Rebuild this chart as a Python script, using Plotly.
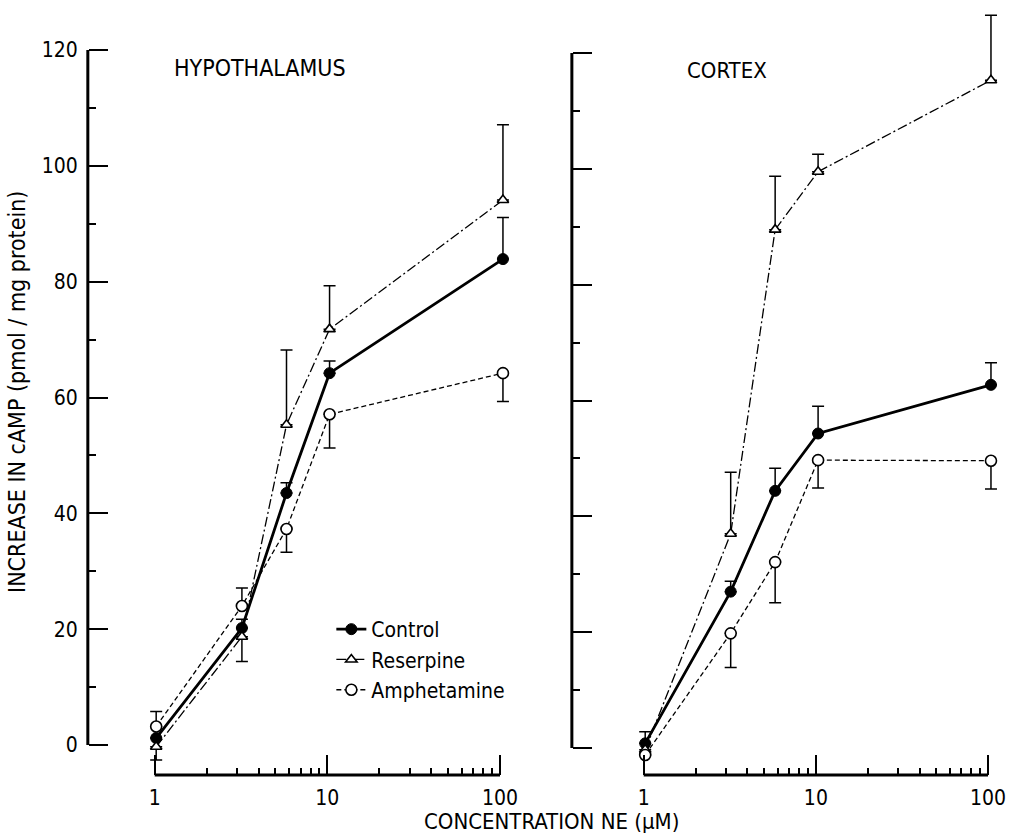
import plotly.graph_objects as go
import math

# ---------------- data ----------------
conc = [1.02, 3.2, 5.8, 10.3, 104]          # NE concentration (uM)
series = ["Control", "Reserpine", "Amphetamine"]

# Hypothalamus
hyp_control = [1.2, 20.2, 43.5, 64.2, 83.9]
hyp_control_up = [0, 1.5, 1.8, 2.1, 7.2]
hyp_control_dn = [0, 0, 0, 0, 0]
hyp_reserpine = [-0.3, 18.7, 55.3, 71.8, 94.1]
hyp_reserpine_up = [0, 0, 12.9, 7.5, 13.0]
hyp_reserpine_dn = [2.3, 4.3, 0, 0, 0]
hyp_amph = [3.2, 24.0, 37.3, 57.1, 64.2]
hyp_amph_up = [2.6, 3.1, 0, 0, 0]
hyp_amph_dn = [0, 0, 4.0, 5.8, 4.9]

# Cortex
ctx_control = [0.8, 27.0, 44.4, 54.3, 62.7]
ctx_control_up = [2.0, 1.8, 3.9, 4.7, 3.8]
ctx_control_dn = [0, 0, 0, 0, 0]
ctx_reserpine = [-0.3, 37.0, 89.5, 99.5, 115.3]
ctx_reserpine_up = [0, 10.6, 9.2, 3.0, 11.2]
ctx_reserpine_dn = [0, 0, 0, 0, 0]
ctx_amph = [-1.2, 19.8, 32.1, 49.7, 49.6]
ctx_amph_up = [0, 0, 0, 0, 0]
ctx_amph_dn = [0, 5.9, 7.0, 4.8, 4.9]

x_tickvals = [1, 10, 100]
x_ticktext = ["1", "10", "100"]
x_minor = [2, 3, 4, 5, 6, 7, 8, 9, 20, 30, 40, 50, 60, 70, 80, 90]
y_tickvals = [0, 20, 40, 60, 80, 100, 120]
y_ticktext = ["0", "20", "40", "60", "80", "100", "120"]

# ---------------- layout geometry (pixels) ----------------
W, H = 1009, 836
FONT = "DejaVu Sans Condensed, Liberation Sans Narrow, Arial Narrow, sans-serif"
NUMFONT = "DejaVu Sans Condensed, Liberation Sans Narrow, Arial Narrow, sans-serif"

def px(x):
    return x / W

def py(y):
    return 1 - y / H

L = dict(x0=155, dec=173.0, y0=745, unit=695 / 120, yax=88, xdom=(130, 535))
R = dict(x0=645, dec=172.5, y0=748, unit=695 / 120, yax=573, xdom=(620, 1006))
YDOM = (6, 792)
XAX_Y = 775

def xrange(p):
    return [(p["xdom"][0] - p["x0"]) / p["dec"], (p["xdom"][1] - p["x0"]) / p["dec"]]

def yrange(p):
    return [(p["y0"] - YDOM[1]) / p["unit"], (p["y0"] - YDOM[0]) / p["unit"]]

fig = go.Figure()

styles = {
    "Control": dict(line=dict(color="black", width=2.8),
                    marker=dict(symbol="circle", size=11, color="black",
                                line=dict(color="black", width=1))),
    "Reserpine": dict(line=dict(color="black", width=1.3, dash="10px,3px,2px,3px"),
                      marker=dict(symbol="triangle-up", size=10, color="white",
                                  line=dict(color="black", width=1.6))),
    "Amphetamine": dict(line=dict(color="black", width=1.3, dash="5px,3px"),
                        marker=dict(symbol="circle", size=11, color="white",
                                    line=dict(color="black", width=1.6))),
}

panels = [
    ("x", "y", [(hyp_control, hyp_control_up, hyp_control_dn),
                (hyp_reserpine, hyp_reserpine_up, hyp_reserpine_dn),
                (hyp_amph, hyp_amph_up, hyp_amph_dn)], True),
    ("x2", "y2", [(ctx_control, ctx_control_up, ctx_control_dn),
                  (ctx_reserpine, ctx_reserpine_up, ctx_reserpine_dn),
                  (ctx_amph, ctx_amph_up, ctx_amph_dn)], False),
]

for xa, ya, data, show in panels:
    for name, (vals, up, dn) in zip(series, data):
        st = styles[name]
        fig.add_trace(go.Scatter(
            x=conc, y=vals, xaxis=xa, yaxis=ya, name=name,
            mode="lines+markers", line=st["line"], marker=st["marker"],
            legendgroup=name, showlegend=show, cliponaxis=False,
            error_y=dict(type="data", symmetric=False, array=up, arrayminus=dn,
                         color="black", thickness=1.5, width=6),
        ))

def yaxis_cfg(p, labels):
    return dict(
        domain=[py(YDOM[1]), py(YDOM[0])], range=yrange(p),
        anchor="free", position=px(p["yax"]), showgrid=False, zeroline=False,
        showline=False, ticks="inside", ticklen=19, tickwidth=2, tickcolor="black",
        tickvals=y_tickvals, ticktext=y_ticktext, showticklabels=labels,
        ticklabelstandoff=10,
        tickfont=dict(family=NUMFONT, size=21, color="black"),
        minor=dict(tickvals=[10, 30, 50, 70, 90, 110], ticks="inside",
                   ticklen=7, tickwidth=2, tickcolor="black"),
    )

def xaxis_cfg(p):
    return dict(
        type="log", domain=[px(p["xdom"][0]), px(p["xdom"][1])], range=xrange(p),
        anchor="free", position=py(XAX_Y), showgrid=False, zeroline=False,
        showline=False, ticks="inside", ticklen=20, tickwidth=2, tickcolor="black",
        tickvals=x_tickvals, ticktext=x_ticktext, ticklabelstandoff=8,
        tickfont=dict(family=NUMFONT, size=21, color="black"),
        minor=dict(tickvals=x_minor, ticks="inside", ticklen=7, tickwidth=1.5,
                   tickcolor="black"),
    )

shapes = []
for p, yref in ((L, "y"), (R, "y2")):
    shapes.append(dict(type="line", xref="paper", yref=yref,
                       x0=px(p["yax"]), x1=px(p["yax"]), y0=0, y1=120,
                       line=dict(color="black", width=3)))
    shapes.append(dict(type="line", xref="paper", yref="paper",
                       x0=px(p["x0"]), x1=px(p["x0"] + 2 * p["dec"]),
                       y0=py(XAX_Y), y1=py(XAX_Y),
                       line=dict(color="black", width=3)))

annotations = [
    dict(text="HYPOTHALAMUS", x=px(172), y=py(68), xref="paper", yref="paper",
         xanchor="left", yanchor="middle", showarrow=False,
         font=dict(family=FONT, size=23, color="black")),
    dict(text="CORTEX", x=px(686), y=py(71), xref="paper", yref="paper",
         xanchor="left", yanchor="middle", showarrow=False,
         font=dict(family=FONT, size=22, color="black")),
    dict(text="INCREASE IN cAMP (pmol / mg protein)", x=px(17), y=py(392),
         xref="paper", yref="paper", textangle=-90, showarrow=False,
         xanchor="center", yanchor="middle",
         font=dict(family=FONT, size=23, color="black")),
    dict(text="CONCENTRATION NE (μM)", x=px(553), y=py(821),
         xref="paper", yref="paper", showarrow=False,
         xanchor="center", yanchor="middle",
         font=dict(family=FONT, size=22, color="black")),
]

fig.update_layout(
    width=W, height=H, margin=dict(l=0, r=0, t=0, b=0),
    paper_bgcolor="white", plot_bgcolor="white",
    xaxis=xaxis_cfg(L), yaxis=yaxis_cfg(L, True),
    xaxis2=xaxis_cfg(R), yaxis2=yaxis_cfg(R, False),
    shapes=shapes, annotations=annotations,
    legend=dict(x=px(332), y=py(609), xanchor="left", yanchor="top",
                bgcolor="rgba(0,0,0,0)", tracegroupgap=0,
                font=dict(family=FONT, size=21, color="black")),
    font=dict(family=FONT, color="black"),
)

fig.write_html("out.html")
